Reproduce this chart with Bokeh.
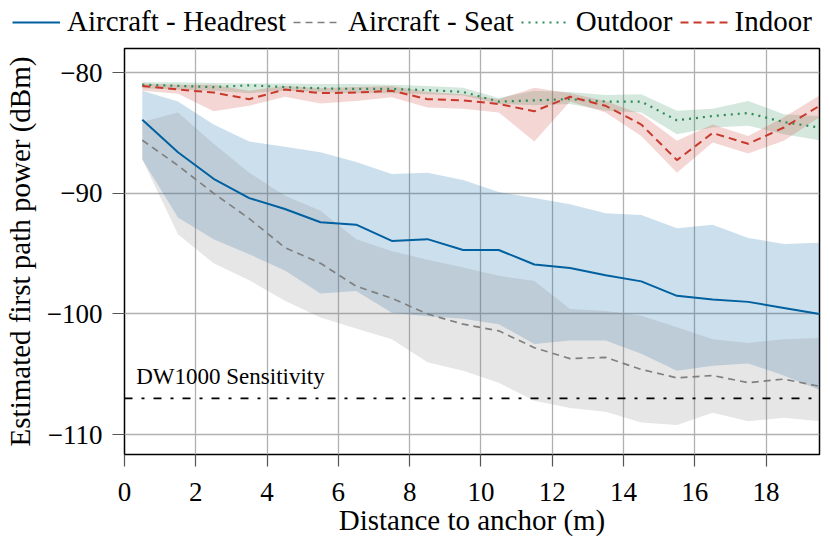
from bokeh.plotting import figure
from bokeh.layouts import column
from bokeh.models import Range1d, FixedTicker, Legend, LegendItem
from bokeh.core.properties import value
from bokeh.embed import file_html
from bokeh.resources import INLINE

# ---------------- data ----------------
distance = [0.5, 1.5, 2.5, 3.5, 4.5, 5.5, 6.5, 7.5, 8.5, 9.5,
            10.5, 11.5, 12.5, 13.5, 14.5, 15.5, 16.5, 17.5, 18.5, 19.5]

headrest = [-83.9, -86.6, -88.8, -90.4, -91.3, -92.4, -92.6, -93.95, -93.8, -94.7,
            -94.7, -95.9, -96.2, -96.8, -97.3, -98.5, -98.8, -99.0, -99.5, -100.0]
headrest_hi = [-81.5, -82.4, -84.3, -85.7, -86.15, -86.6, -87.4, -88.4, -88.3, -88.9,
               -89.9, -90.4, -90.9, -91.65, -91.8, -92.9, -92.6, -93.7, -94.2, -94.1]
headrest_lo = [-87.2, -92.0, -93.8, -95.05, -96.4, -98.3, -98.1, -99.9, -100.2, -100.4,
               -100.85, -102.5, -102.2, -102.2, -103.3, -104.7, -104.3, -104.1, -105.1, -106.3]

seat = [-85.6, -87.7, -90.0, -92.1, -94.5, -95.8, -97.7, -98.7, -100.0, -100.85,
        -101.4, -102.8, -103.7, -103.6, -104.6, -105.3, -105.1, -105.7, -105.4, -106.0]
seat_hi = [-84.1, -83.3, -85.9, -88.3, -90.2, -91.45, -93.8, -94.8, -95.5, -96.15,
           -96.84, -97.26, -99.6, -99.75, -100.16, -101.1, -102.1, -102.4, -102.1, -102.0]
seat_lo = [-87.2, -93.4, -95.8, -97.2, -98.9, -100.3, -101.2, -102.1, -104.0, -104.7,
           -105.7, -107.2, -107.8, -108.1, -109.0, -109.2, -108.2, -108.9, -108.6, -108.9]

outdoor = [-81.0, -81.1, -81.2, -81.05, -81.2, -81.3, -81.35, -81.35, -81.45, -81.6,
           -82.4, -82.3, -82.2, -82.4, -82.4, -83.95, -83.6, -83.35, -84.1, -84.55]
outdoor_hi = [-80.8, -80.8, -80.85, -80.9, -80.9, -80.95, -80.95, -81.0, -81.1, -81.25,
              -82.1, -81.5, -81.6, -81.85, -81.8, -83.15, -83.0, -82.35, -83.45, -83.6]
outdoor_lo = [-81.3, -81.4, -81.5, -81.7, -81.5, -81.6, -81.7, -81.7, -81.8, -81.9,
              -82.6, -82.7, -82.6, -83.15, -83.3, -85.1, -84.55, -84.4, -85.1, -85.6]

indoor = [-81.1, -81.4, -81.65, -82.2, -81.4, -81.7, -81.65, -81.5, -82.2, -82.3,
          -82.6, -83.2, -82.0, -82.75, -84.3, -87.25, -85.0, -85.9, -84.55, -82.75]
indoor_hi = [-80.9, -81.0, -81.0, -81.5, -81.1, -81.3, -81.2, -81.1, -81.6, -81.8,
             -82.2, -81.25, -81.7, -82.35, -83.45, -85.65, -84.3, -85.25, -83.7, -81.9]
indoor_lo = [-81.5, -81.75, -83.2, -82.75, -82.0, -82.55, -82.35, -82.05, -82.9, -83.0,
             -83.3, -85.7, -82.4, -83.3, -85.25, -88.3, -85.8, -86.7, -85.65, -83.7]

sensitivity = -107.0
sensitivity_label = "DW1000 Sensitivity"

x_ticks = [0, 2, 4, 6, 8, 10, 12, 14, 16, 18]
y_ticks = [-110, -100, -90, -80]
y_tick_labels = ["\u2212110", "\u2212100", "\u221290", "\u221280"]

series_names = ["Aircraft - Headrest", "Aircraft - Seat", "Outdoor", "Indoor"]

# ---------------- styling ----------------
FONT = "Liberation Serif"
BLUE = "#0060a0"
GRAY = "#808080"
GREEN = "#2e8b57"
RED = "#c8392b"

line_styles = [
    dict(line_color=BLUE, line_width=2),
    dict(line_color=GRAY, line_width=1.7, line_dash="7 5"),
    dict(line_color=GREEN, line_width=2.2, line_dash="2 5"),
    dict(line_color=RED, line_width=2, line_dash="8 5"),
]

# ---------------- main plot ----------------
p = figure(width=830, height=496, output_backend="svg", toolbar_location=None,
           x_range=Range1d(0, 19.5), y_range=Range1d(-111.65, -78.0),
           min_border_left=124, min_border_right=11, min_border_top=2,
           min_border_bottom=88)

p.outline_line_color = "black"
p.outline_line_width = 1.5

for ax in (p.xaxis[0], p.yaxis[0]):
    ax.axis_line_color = None
    ax.major_tick_line_color = "#555555"
    ax.major_tick_line_width = 1.2
    ax.major_tick_out = 12
    ax.major_tick_in = 0
    ax.minor_tick_line_color = None
    ax.major_label_text_font = FONT
    ax.major_label_text_font_size = "27px"
    ax.major_label_text_color = "black"
    ax.axis_label_text_font = FONT
    ax.axis_label_text_font_size = "29px"
    ax.axis_label_text_font_style = "normal"
    ax.axis_label_text_color = "black"

p.xaxis.ticker = FixedTicker(ticks=x_ticks)
p.yaxis.ticker = FixedTicker(ticks=y_ticks)
p.yaxis.major_label_overrides = {t: l for t, l in zip(y_ticks, y_tick_labels)}
p.xaxis.axis_label = "Distance to anchor (m)"
p.yaxis.axis_label = "Estimated first path power (dBm)"
p.xaxis.major_label_standoff = 16
p.xaxis.axis_label_standoff = 0
p.yaxis.major_label_standoff = 10
p.yaxis.axis_label_standoff = 8

p.xgrid.ticker = FixedTicker(ticks=x_ticks)
p.ygrid.ticker = FixedTicker(ticks=y_ticks)
for g in (p.xgrid[0], p.ygrid[0]):
    g.grid_line_color = "#b0b0b0"
    g.grid_line_width = 1.3

# bands
p.varea(x=distance, y1=headrest_lo, y2=headrest_hi, fill_color=BLUE, fill_alpha=0.2)
p.varea(x=distance, y1=seat_lo, y2=seat_hi, fill_color=GRAY, fill_alpha=0.2)
p.varea(x=distance, y1=outdoor_lo, y2=outdoor_hi, fill_color=GREEN, fill_alpha=0.2)
p.varea(x=distance, y1=indoor_lo, y2=indoor_hi, fill_color=RED, fill_alpha=0.2)

# sensitivity line
p.line(x=[0, 19.5], y=[sensitivity, sensitivity], line_color="black",
       line_width=1.8, line_dash="8 9 3 9")
p.text(x=[0.33], y=[sensitivity + 1.8], text=[sensitivity_label],
       text_font=value(FONT), text_font_size="23px", text_color="black",
       text_baseline="alphabetic", text_align="left")

# lines
for ys, st in zip([headrest, seat, outdoor, indoor], line_styles):
    p.line(distance, ys, **st)

# ---------------- legend strip ----------------
lg = figure(width=830, height=46, output_backend="svg", toolbar_location=None,
            x_range=Range1d(0, 1), y_range=Range1d(0, 1),
            x_axis_type=None, y_axis_type=None, min_border=0)
lg.frame_align = False
lg.outline_line_color = None
lg.xgrid.visible = False
lg.ygrid.visible = False
nan = float("nan")
proxies = [lg.line(x=[nan], y=[nan], **st) for st in line_styles]

legend = Legend(items=[LegendItem(label=n, renderers=[r]) for n, r in
                       zip(series_names, proxies)],
                orientation="horizontal", location=(12, 8))
legend.label_text_font = FONT
legend.label_text_font_size = "29px"
legend.label_text_color = "black"
legend.glyph_width = 48
legend.glyph_height = 30
legend.label_height = 30
legend.label_standoff = 7
legend.spacing = 7
legend.padding = 0
legend.margin = 0
legend.border_line_color = None
legend.background_fill_alpha = 0
lg.add_layout(legend, "center")

layout = column(lg, p, spacing=0)
open("out.html", "w").write(file_html(layout, INLINE))
